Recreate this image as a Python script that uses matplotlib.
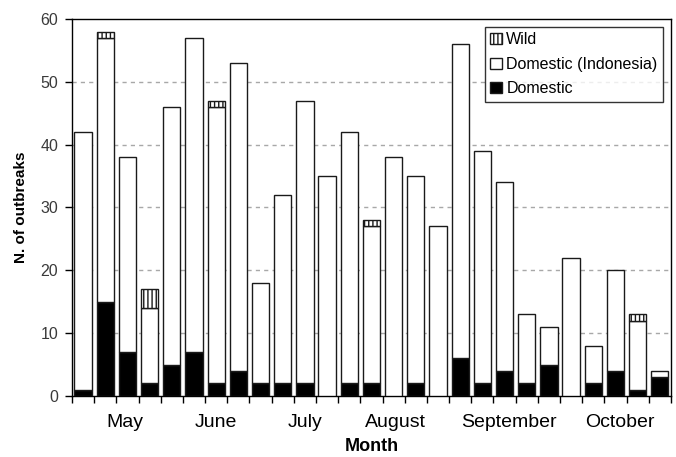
import numpy as np
import matplotlib
matplotlib.use("Agg")
import matplotlib.pyplot as plt
from matplotlib.ticker import FixedLocator, NullFormatter, FixedFormatter

plt.rcParams['font.family'] = ['Liberation Sans', 'DejaVu Sans']
plt.rcParams['hatch.linewidth'] = 1.0

# ---- data (one bar per period, 27 periods) ----
domestic = [1, 15, 7, 2, 5, 7, 2, 4, 2, 2, 2, 0, 2, 2, 0, 2, 0, 6, 2, 4, 2, 5, 0, 2, 4, 1, 3]
domestic_indonesia = [41, 42, 31, 12, 41, 50, 44, 49, 16, 30, 45, 35, 40, 25, 38, 33, 27, 50, 37, 30, 11, 6, 22, 6, 16, 11, 1]
wild = [0, 1, 0, 3, 0, 0, 1, 0, 0, 0, 0, 0, 0, 1, 0, 0, 0, 0, 0, 0, 0, 0, 0, 0, 0, 1, 0]

month_labels = ["May", "June", "July", "August", "September", "October"]
month_label_pos = [1.9, 6.0, 10.0, 14.1, 19.2, 24.2]

y_ticks = [0, 10, 20, 30, 40, 50, 60]

n = len(domestic)
x = np.arange(n)
dom = np.array(domestic)
ind = np.array(domestic_indonesia)
wld = np.array(wild)

fig = plt.figure(figsize=(6.76, 4.57), dpi=100)
ax = fig.add_axes([0.1065, 0.1335, 0.886, 0.825])

edge = '#1a1a1a'
w = 0.78
b1 = ax.bar(x, dom, w, color='black', edgecolor=edge, linewidth=1.0, label='Domestic', zorder=3)
b2 = ax.bar(x, ind, w, bottom=dom, color='white', edgecolor=edge, linewidth=1.0,
            label='Domestic (Indonesia)', zorder=3)
mask = wld > 0
b3 = ax.bar(x[mask], wld[mask], w, bottom=(dom + ind)[mask], color='white', edgecolor=edge,
            linewidth=1.0, hatch='||||', label='Wild', zorder=3)

ax.set_xlim(-0.5, n - 0.5)
ax.set_ylim(0, 60)
ax.set_yticks(y_ticks)
for t in y_ticks[1:-1]:
    ax.axhline(t, color='#a8a8a8', linewidth=1.0, linestyle=(0, (3, 3)), zorder=1)

ax.xaxis.set_major_locator(FixedLocator(np.arange(n + 1) - 0.5))
ax.xaxis.set_major_formatter(NullFormatter())
ax.xaxis.set_minor_locator(FixedLocator(month_label_pos))
ax.xaxis.set_minor_formatter(FixedFormatter(month_labels))
ax.tick_params(axis='x', which='major', direction='out', length=5, width=1, color='black')
ax.tick_params(axis='x', which='minor', length=0, pad=13, labelsize=14, labelcolor='black')
ax.tick_params(axis='y', direction='out', length=5, width=1, labelsize=11.5, labelcolor='#3a3a3a', pad=5)

for s in ax.spines.values():
    s.set_color('black')
    s.set_linewidth(1.0)

ax.set_xlabel('Month', fontsize=13, fontweight='bold', labelpad=5)
ax.set_ylabel('N. of outbreaks', fontsize=11, fontweight='bold', labelpad=9)

leg = ax.legend(handles=[b3, b2, b1], loc='upper right', bbox_to_anchor=(0.987, 0.979),
                borderaxespad=0, fancybox=False, frameon=True, fontsize=11.5,
                handlelength=0.7, handleheight=0.7, handletextpad=0.3,
                labelspacing=0.58, borderpad=0.35)
leg.get_frame().set_edgecolor('black')
leg.get_frame().set_linewidth(1.0)
leg.set_zorder(5)

fig.savefig('out.png', dpi=100)
